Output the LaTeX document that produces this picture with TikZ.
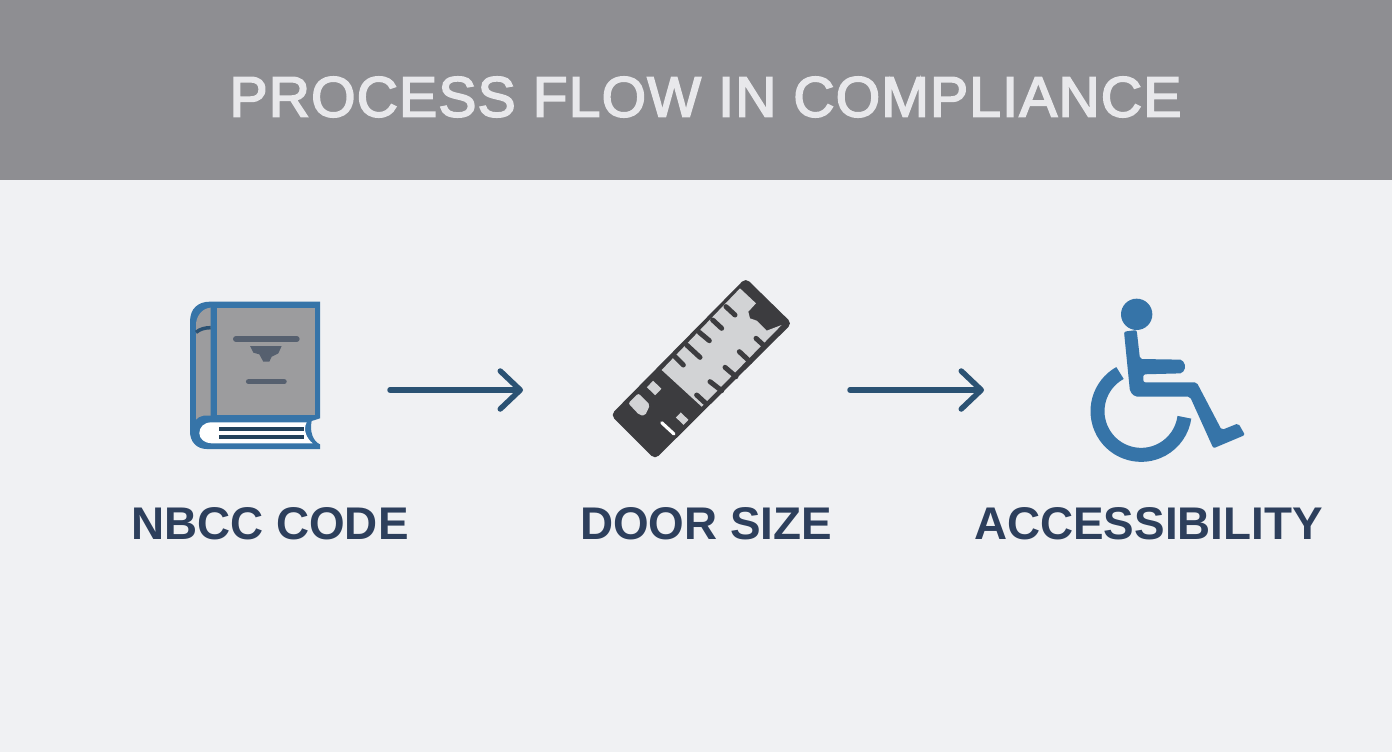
\documentclass[tikz,border=0pt]{standalone}
\usepackage{fontspec}
\usepackage{tikz}
\usetikzlibrary{arrows.meta}
\setmainfont{Liberation Sans}
\definecolor{headgray}{HTML}{8E8E92}
\definecolor{pagebg}{HTML}{F0F1F3}
\definecolor{titletxt}{HTML}{E8E8EB}
\definecolor{labeltxt}{HTML}{2D3F5C}
\definecolor{flowblue}{HTML}{2B5273}
\definecolor{iconblue}{HTML}{3674A8}
\definecolor{covergray}{HTML}{9C9C9E}
\definecolor{inkgray}{HTML}{56606F}
\definecolor{rulerdark}{HTML}{3C3C3F}
\definecolor{rulerlight}{HTML}{D2D3D5}

\begin{document}
\begin{tikzpicture}[x=1pt, y=-1pt,
		title_style/.style={font=\fontsize{57}{60}\selectfont\addfontfeature{FakeBold=3,LetterSpace=2.15}, text=titletxt, inner sep=0pt},
		label_style/.style={font=\fontsize{45.8}{52}\bfseries, text=labeltxt, inner sep=0pt},
		icon_style/.style={minimum height=180pt, inner sep=0pt, outer sep=0pt},
		flow_style/.style={draw=flowblue, line width=5.5pt, line cap=round, line join=round, -{Straight Barb[length=20pt,width=38pt,round]}},
		ink_style/.style={draw=inkgray, line cap=round},
		tick_style/.style={draw=rulerdark, line width=5pt, line cap=round}]
		
		\useasboundingbox (0,0) rectangle (1392,752);
		\fill[pagebg] (0,0) rectangle (1392,752);
		\fill[headgray] (0,0) rectangle (1392,180);
		
		\node[title_style] (title) at (705.5,97)  {PROCESS FLOW IN COMPLIANCE};
		
		\node[icon_style, minimum width=130pt] (book) at (255,390)  {};
		\node[icon_style, minimum width=178pt] (ruler) at (701,390)  {};
		\node[icon_style, minimum width=156pt] (chair) at (1168,390)  {};
		
		\node[label_style] (nbcc) at (270,524)  {NBCC CODE};
		\node[label_style] (door) at (706,524)  {DOOR SIZE};
		\node[label_style] (access) at (1148.5,524)  {ACCESSIBILITY};
		
		\draw[flow_style, shorten <=70pt, shorten >=89pt]  (book) -- (ruler);
		\draw[flow_style, shorten <=60pt, shorten >=106pt]  (ruler) -- (chair);
		
		% book
		\begin{scope}[shift={(170,285)}, scale=1/3]
			\fill[iconblue] (60,110) .. controls (60,70) and (85,50) .. (120,50) -- (450,50) -- (450,400)
				-- (425,408) .. controls (418,440) and (430,470) .. (450,478) -- (450,492) -- (110,492)
				.. controls (80,492) and (60,470) .. (60,440) -- cycle;
			\fill[white] (410,412) -- (125,412) .. controls (100,412) and (88,428) .. (88,445)
				.. controls (88,462) and (105,475) .. (125,475) -- (428,475)
				.. controls (410,460) and (398,435) .. (410,412) -- cycle;
			\fill[covergray] (78,120) .. controls (78,95) and (95,70) .. (122,68) -- (122,392) -- (100,392) .. controls (90,394) and (82,398) .. (78,404) -- cycle;
			\fill[covergray] (142,70) rectangle (435,390);
			\draw[draw=flowblue, line width=3.5pt] (78,142) .. controls (90,132) and (105,128) .. (122,128);
			\draw[ink_style, line width=6pt] (198,162) -- (380,162);
			\fill[inkgray] (240,183) -- (335,183) -- (325,205) -- (305,215) -- (298,230) -- (280,230) -- (268,208) -- (250,203) -- cycle;
			\draw[ink_style, line width=5.5pt] (236,290) -- (342,290);
			\draw[draw=flowblue!80!black, line width=4pt] (148,432) -- (402,432);
			\draw[draw=flowblue!80!black, line width=4pt] (148,455) -- (402,455);
		\end{scope}
		
		% ruler
		\begin{scope}[shift={(600,270)}, scale=1/3]
			\fill[rulerdark, rounded corners=5pt] (437,24) -- (576,160) -- (165,568) -- (32,435) -- cycle;
			\fill[rulerlight] (420,55) -- (468,100) -- (445,125) -- (450,145) -- (470,152) -- (500,182) -- (545,165) -- (305,410) -- (185,300) -- cycle;
			\draw[tick_style] (378,110) -- (405,135);
			\draw[tick_style] (338,150) -- (365,175);
			\draw[tick_style] (298,187) -- (328,212);
			\draw[tick_style] (260,225) -- (300,262);
			\draw[tick_style] (225,260) -- (250,285);
			\draw[tick_style] (468,205) -- (490,225);
			\draw[tick_style] (418,245) -- (450,275);
			\draw[tick_style] (375,292) -- (408,320);
			\draw[tick_style] (330,335) -- (365,362);
			\draw[tick_style] (290,375) -- (315,398);
			\fill[rulerlight, rounded corners=2pt] (85,400) -- (115,370) -- (150,405) -- (135,437) -- (118,435) -- cycle;
			\draw[draw=rulerlight, line width=9pt] (150,342) -- (175,366);
			\draw[draw=rulerlight, line width=7pt] (235,435) -- (258,457);
			\draw[draw=white, line width=3.2pt, line cap=round] (185,458) -- (222,492);
		\end{scope}
		
		% wheelchair
		\begin{scope}[shift={(1075,285)}, scale=1/3]
			\fill[iconblue] (185,88) circle (47pt);
			\fill[iconblue, rounded corners=2pt] (147,140) -- (185,135) -- (195,222) -- (322,224) -- (332,245) -- (322,265) -- (205,268) -- (205,292) -- (365,292)
				-- (440,435) -- (490,415) -- (510,450) -- (415,490) -- (345,335) -- (180,335) -- (165,320) -- cycle;
			\draw[draw=iconblue, line width=14pt] (135,264) arc[start angle=241, end angle=8, radius=131];
		\end{scope}
		
		\end{tikzpicture}
\end{document}
